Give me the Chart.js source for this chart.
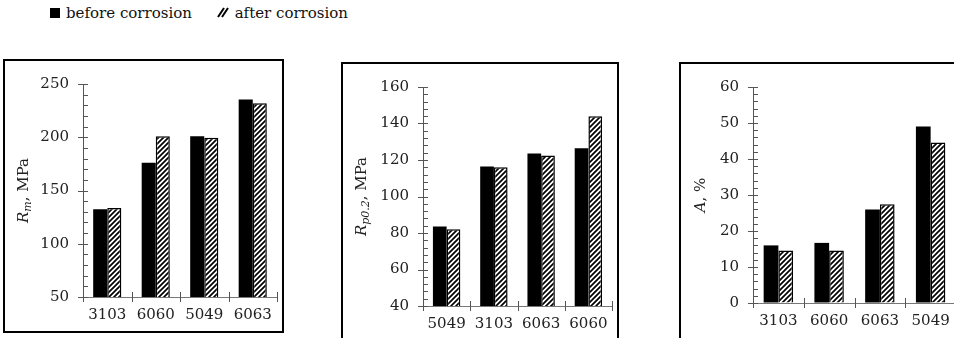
<!DOCTYPE html>
<html lang="en">
<head>
    <meta charset="UTF-8">
    <title>Tensile properties before and after corrosion</title>
    <script src="https://cdn.jsdelivr.net/npm/chart.js"></script>
    <style>
        html, body {
            margin: 0;
            padding: 0;
            width: 954px;
            height: 338px;
            overflow: hidden;
            background: #fff;
            font-family: "DejaVu Serif", "Liberation Serif", serif;
        }
        .box {
            position: absolute;
            border: 2px solid #000;
            box-sizing: border-box;
        }
        canvas {
            position: absolute;
        }
        .legend {
            position: absolute;
            top: 4px;
            left: 50px;
            font-size: 15px;
            color: #111;
            white-space: nowrap;
        }
        .legend span.item {
            display: inline-block;
            margin-right: 20px;
        }
        .legend .sw {
            display: inline-block;
            width: 10px;
            height: 10px;
            margin-right: 6px;
            vertical-align: 0px;
        }
    </style>
</head>
<body>
    <div class="legend">
        <span class="item"><span class="sw" style="background:#000"></span>before corrosion</span>
        <span class="item"><canvas id="hatchIcon" width="12" height="11" style="position:static;vertical-align:0px;margin-right:6px"></canvas>after corrosion</span>
    </div>

    <div class="box" style="left:3px; top:59px; width:281px; height:274px"></div>
    <div class="box" style="left:341px; top:62px; width:278px; height:290px"></div>
    <div class="box" style="left:679px; top:62px; width:300px; height:290px"></div>

    <canvas id="rm" width="277" height="270" style="left:5px; top:61px"></canvas>
    <canvas id="rp" width="274" height="274" style="left:343px; top:64px"></canvas>
    <canvas id="el" width="290" height="274" style="left:681px; top:64px"></canvas>

    <script>
        // tensile strength Rm, MPa
        const rmAlloys = ['3103', '6060', '5049', '6063'];
        const rmBefore = [132.5, 176, 201, 235.5];
        const rmAfter = [133.5, 201, 199.5, 232];

        // yield strength Rp0.2, MPa
        const rpAlloys = ['5049', '3103', '6063', '6060'];
        const rpBefore = [83.5, 116.5, 123.5, 126.5];
        const rpAfter = [82, 116, 122.5, 144];

        // elongation A, %
        const elAlloys = ['3103', '6060', '6063', '5049'];
        const elBefore = [16, 16.7, 26, 49];
        const elAfter = [14.6, 14.6, 27.4, 44.6];

        const serif = '"DejaVu Serif", "Liberation Serif", serif';

        function makeHatch(ctx) {
            const c = document.createElement('canvas');
            c.width = 5;
            c.height = 5;
            const g = c.getContext('2d');
            g.fillStyle = '#fff';
            g.fillRect(0, 0, 5, 5);
            g.strokeStyle = '#000';
            g.lineWidth = 1.7;
            g.beginPath();
            g.moveTo(-1, 6); g.lineTo(6, -1);
            g.moveTo(-4, 4); g.lineTo(4, -4);
            g.moveTo(1, 9); g.lineTo(9, 1);
            g.stroke();
            return ctx.createPattern(c, 'repeat');
        }

        // legend icon for the hatched series
        (function () {
            const ic = document.getElementById('hatchIcon').getContext('2d');
            ic.strokeStyle = '#000';
            ic.lineWidth = 2;
            ic.beginPath();
            ic.moveTo(1, 10); ic.lineTo(7, 1);
            ic.moveTo(5, 10); ic.lineTo(11, 1);
            ic.stroke();
        })();

        // axis ticks drawn by hand: major ticks cross the axis, minor ticks only on the right
        const axisTicks = {
            id: 'axisTicks',
            afterDraw(chart, args, opts) {
                const ctx = chart.ctx;
                const x = chart.scales.x, y = chart.scales.y;
                const ax = chart.chartArea.left;
                ctx.save();
                ctx.strokeStyle = '#555';
                ctx.lineWidth = 1;
                ctx.beginPath();
                for (let v = y.min; v <= y.max + 1e-6; v += opts.minor) {
                    const py = Math.round(y.getPixelForValue(v)) + 0.5;
                    const k = (v - y.min) / opts.major;
                    if (Math.abs(k - Math.round(k)) < 1e-6) {
                        ctx.moveTo(ax - 5, py); ctx.lineTo(ax + 5, py);
                    } else {
                        ctx.moveTo(ax, py); ctx.lineTo(ax + 5, py);
                    }
                }
                const n = x.ticks.length;
                const py = chart.chartArea.bottom;
                for (let i = 0; i <= n; i++) {
                    let px;
                    if (i === 0) px = chart.chartArea.left;
                    else if (i === n) px = chart.chartArea.right;
                    else px = (x.getPixelForValue(i - 1) + x.getPixelForValue(i)) / 2;
                    px = Math.round(px) + 0.5;
                    ctx.moveTo(px, py - 5); ctx.lineTo(px, py + 5);
                }
                ctx.stroke();
                ctx.restore();
            }
        };

        // rotated y axis title with italic symbol and subscript
        const yTitle = {
            id: 'yTitle',
            afterDraw(chart, args, opts) {
                const ctx = chart.ctx;
                const cy = (chart.chartArea.top + chart.chartArea.bottom) / 2;
                ctx.save();
                ctx.translate(opts.x, cy);
                ctx.rotate(-Math.PI / 2);
                ctx.fillStyle = '#222';
                ctx.textBaseline = 'middle';
                const parts = opts.parts.map(p => {
                    const size = p.sub ? 11 : 15;
                    const font = (p.italic ? 'italic ' : '') + size + 'px ' + serif;
                    ctx.font = font;
                    return { t: p.t, font: font, sub: p.sub, w: ctx.measureText(p.t).width };
                });
                const total = parts.reduce((s, p) => s + p.w, 0);
                let tx = -total / 2;
                parts.forEach(p => {
                    ctx.font = p.font;
                    ctx.fillText(p.t, tx, p.sub ? 4 : 0);
                    tx += p.w;
                });
                ctx.restore();
            }
        };

        function makePanel(id, labels, before, after, area, yOpts, titleX, titleParts) {
            const canvas = document.getElementById(id);
            const ctx = canvas.getContext('2d');
            const W = canvas.width, H = canvas.height;
            new Chart(ctx, {
                type: 'bar',
                data: {
                    labels: labels,
                    datasets: [{
                        label: 'before corrosion',
                        data: before,
                        backgroundColor: '#000',
                        borderColor: '#000',
                        borderWidth: 0
                    }, {
                        label: 'after corrosion',
                        data: after,
                        backgroundColor: makeHatch(ctx),
                        borderColor: '#000',
                        borderWidth: 1.5
                    }]
                },
                options: {
                    responsive: false,
                    animation: false,
                    devicePixelRatio: 1,
                    events: [],
                    layout: {
                        padding: { left: 0, top: area.top, right: W - area.right, bottom: 0 }
                    },
                    datasets: {
                        bar: { barPercentage: 1.0, categoryPercentage: 0.58 }
                    },
                    plugins: {
                        legend: { display: false },
                        tooltip: { enabled: false },
                        axisTicks: { major: yOpts.step, minor: yOpts.minor },
                        yTitle: { x: titleX, parts: titleParts }
                    },
                    scales: {
                        x: {
                            afterFit(scale) { scale.height = H - area.bottom; },
                            grid: { display: true, drawOnChartArea: false, drawTicks: false },
                            border: { display: true, color: '#777', width: 1 },
                            ticks: {
                                padding: 9,
                                color: '#222',
                                font: { family: serif, size: 15 }
                            }
                        },
                        y: {
                            min: yOpts.min,
                            max: yOpts.max,
                            afterFit(scale) { scale.width = area.left; },
                            grid: { display: true, drawOnChartArea: false, drawTicks: false },
                            border: { display: true, color: '#555', width: 1 },
                            ticks: {
                                stepSize: yOpts.step,
                                padding: 14,
                                color: '#222',
                                font: { family: serif, size: 15 }
                            }
                        }
                    }
                },
                plugins: [axisTicks, yTitle]
            });
        }

        makePanel('rm', rmAlloys, rmBefore, rmAfter,
            { left: 78, right: 272, top: 6, bottom: 236 },
            { min: 50, max: 250, step: 50, minor: 10 },
            19, [{ t: 'R', italic: true }, { t: 'm', italic: true, sub: true }, { t: ', MPa' }]);

        makePanel('rp', rpAlloys, rpBefore, rpAfter,
            { left: 80, right: 270, top: 10, bottom: 242 },
            { min: 40, max: 160, step: 20, minor: 4 },
            19, [{ t: 'R', italic: true }, { t: 'p0.2', italic: true, sub: true }, { t: ', MPa' }]);

        makePanel('el', elAlloys, elBefore, elAfter,
            { left: 72, right: 275, top: 10, bottom: 239 },
            { min: 0, max: 60, step: 10, minor: 2 },
            20, [{ t: 'A', italic: true }, { t: ', %' }]);
    </script>
</body>
</html>
